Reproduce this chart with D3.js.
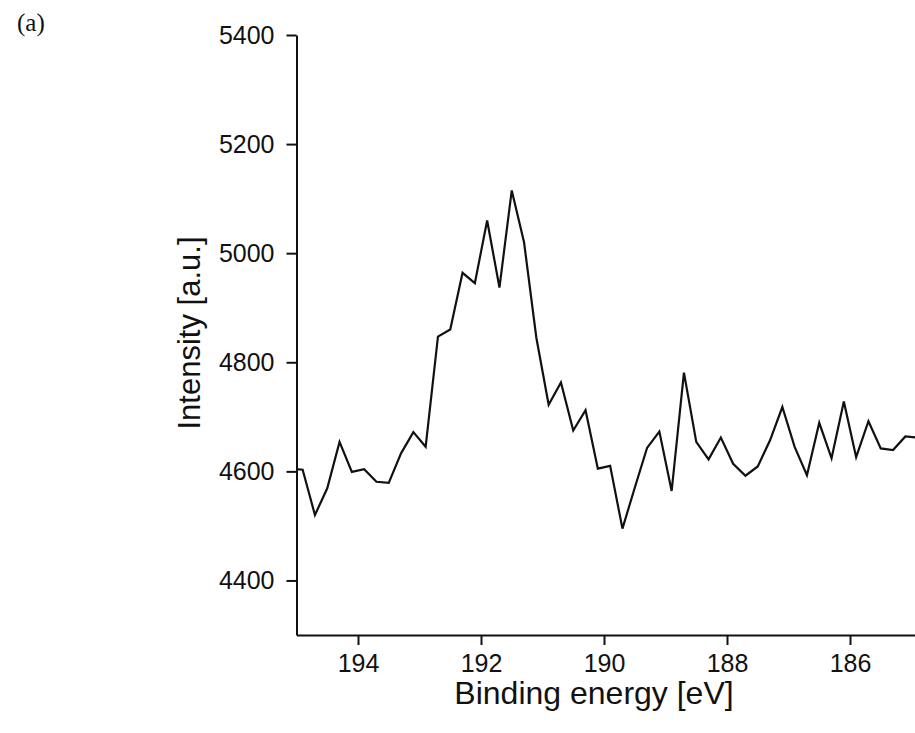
<!DOCTYPE html>
<html>
<head>
<meta charset="utf-8">
<script src="https://cdn.jsdelivr.net/npm/d3@7"></script>
<style>
  html, body { margin: 0; padding: 0; background: #fff; }
  svg { display: block; }
  .axis text { font-family: "Liberation Sans", Arial, sans-serif; font-size: 25px; fill: #111; }
  .axis path, .axis line { stroke: #111; stroke-width: 2; }
  .label { font-family: "Liberation Sans", Arial, sans-serif; font-size: 31px; fill: #111; }
  .xlabel { font-size: 32px; }
  .panel { font-family: "Liberation Serif", "Times New Roman", serif; font-size: 25px; fill: #111; }
</style>
</head>
<body>
<svg id="chart" width="915" height="733"></svg>
<script>
// Binding energies of the scan (eV), 0.2 eV steps
const energy = [195.1, 194.9, 194.7, 194.5, 194.3, 194.1, 193.9, 193.7, 193.5, 193.3,
  193.1, 192.9, 192.7, 192.5, 192.3, 192.1, 191.9, 191.7, 191.5, 191.3,
  191.1, 190.9, 190.7, 190.5, 190.3, 190.1, 189.9, 189.7, 189.5, 189.3,
  189.1, 188.9, 188.7, 188.5, 188.3, 188.1, 187.9, 187.7, 187.5, 187.3,
  187.1, 186.9, 186.7, 186.5, 186.3, 186.1, 185.9, 185.7, 185.5, 185.3,
  185.1, 184.9];
// Measured intensity (a.u.)
const intensity = [4605, 4603, 4520, 4569, 4654, 4599, 4604, 4581, 4579, 4633,
  4672, 4645, 4847, 4860, 4964, 4945, 5060, 4937, 5115, 5020,
  4845, 4722, 4763, 4675, 4712, 4605, 4610, 4495, 4570, 4643,
  4673, 4564, 4781, 4654, 4622, 4662, 4614, 4592, 4609, 4657,
  4718, 4645, 4593, 4689, 4624, 4728, 4626, 4692, 4642, 4639,
  4664, 4662];
const xTicks = [194, 192, 190, 188, 186];
const yTicks = [4400, 4600, 4800, 5000, 5200, 5400];

const svg = d3.select("#chart");
const plotLeft = 296.5, plotRight = 917.65, plotTop = 35, plotBottom = 635;

const x = d3.scaleLinear().domain([195, 184.9]).range([plotLeft, plotRight]);
const y = d3.scaleLinear().domain([4300, 5400]).range([plotBottom, plotTop]);

svg.append("defs").append("clipPath").attr("id", "plotArea")
  .append("rect").attr("x", plotLeft).attr("y", 0)
  .attr("width", plotRight - plotLeft).attr("height", plotBottom);

const data = energy.map((e, i) => ({ e, v: intensity[i] }));
const line = d3.line().x(d => x(d.e)).y(d => y(d.v));

svg.append("path")
  .datum(data)
  .attr("clip-path", "url(#plotArea)")
  .attr("fill", "none")
  .attr("stroke", "#111")
  .attr("stroke-width", 2.2)
  .attr("stroke-linejoin", "miter")
  .attr("d", line);

svg.append("g").attr("class", "axis")
  .attr("transform", `translate(0,${plotBottom})`)
  .call(d3.axisBottom(x).tickValues(xTicks).tickFormat(d3.format("d"))
    .tickSize(10).tickSizeOuter(0).tickPadding(9));

svg.append("g").attr("class", "axis")
  .attr("transform", `translate(${plotLeft},0)`)
  .call(d3.axisLeft(y).tickValues(yTicks).tickFormat(d3.format("d"))
    .tickSize(10).tickSizeOuter(0).tickPadding(12));

svg.append("text").attr("class", "label xlabel")
  .attr("x", 594).attr("y", 704)
  .attr("text-anchor", "middle")
  .text("Binding energy [eV]");

svg.append("text").attr("class", "label")
  .attr("transform", "translate(200,333) rotate(-90)")
  .attr("text-anchor", "middle")
  .text("Intensity [a.u.]");

svg.append("text").attr("class", "panel")
  .attr("x", 17).attr("y", 31)
  .text("(a)");
</script>
</body>
</html>
